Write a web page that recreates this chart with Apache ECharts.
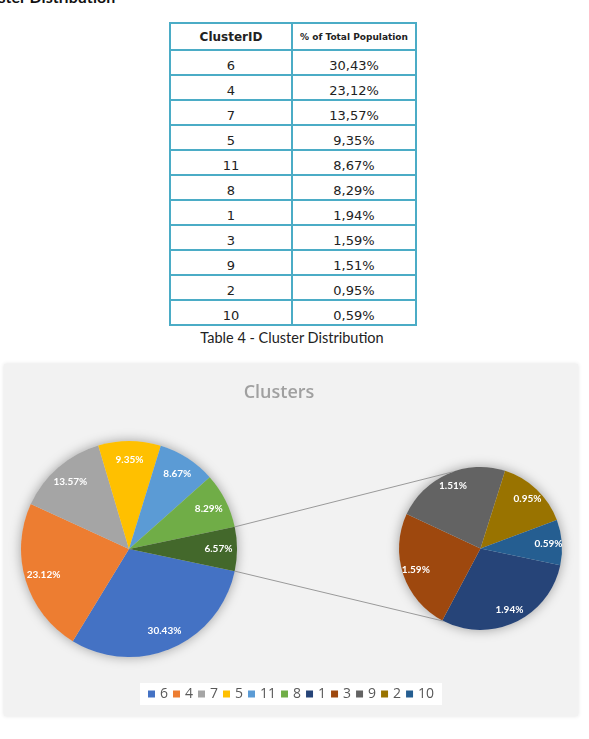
<!DOCTYPE html>
<html>
<head>
<meta charset="utf-8">
<script src="https://cdn.jsdelivr.net/npm/echarts@6/dist/echarts.min.js"></script>
<style>
  body { margin: 0; width: 589px; height: 739px; background: #fff; position: relative; overflow: hidden; }
  #heading { position: absolute; left: -25px; top: -13px; font: bold 16px Lato, sans-serif; color: #111; white-space: nowrap; }
  #tbl { position: absolute; left: 169px; top: 22px; width: 246px; border-collapse: collapse; table-layout: fixed; font-family: 'DejaVu Sans', sans-serif; color: #222; }
  #tbl th, #tbl td { border: 2px solid #4bacc6; text-align: center; padding: 0; }
  #tbl th { height: 25px; font-weight: bold; }
  #tbl td { height: 23px; font-size: 13px; vertical-align: bottom; line-height: 16px; }
  #caption { position: absolute; left: 0; top: 329px; width: 584px; text-align: center; font: 14.5px Lato, sans-serif; color: #222; }
  #chart { position: absolute; left: 4px; top: 364px; width: 574px; height: 352px; background: #f2f2f2; box-shadow: 0 0 4px rgba(0,0,0,0.12); }
</style>
</head>
<body>
<div id="heading">Cluster Distribution</div>
<table id="tbl">
  <colgroup><col style="width:122px"><col style="width:124px"></colgroup>
  <thead><tr><th style="font-size:12px">ClusterID</th><th style="font-size:9px">% of Total Population</th></tr></thead>
  <tbody id="tbody"></tbody>
</table>
<div id="caption">Table 4 - Cluster Distribution</div>
<div id="chart"></div>
<script>
// table data
const clusterIds = ['6', '4', '7', '5', '11', '8', '1', '3', '9', '2', '10'];
const populationPct = [30.43, 23.12, 13.57, 9.35, 8.67, 8.29, 1.94, 1.59, 1.51, 0.95, 0.59];

// pie of pie
const mainNames = ['6', '4', '7', '5', '11', '8', 'Other'];
const mainValues = [30.43, 23.12, 13.57, 9.35, 8.67, 8.29, 6.57];
const subNames = ['1', '3', '9', '2', '10'];
const subValues = [1.94, 1.59, 1.51, 0.95, 0.59];

const mainColors = ['#4472c4', '#ed7d31', '#a5a5a5', '#ffc000', '#5b9bd5', '#70ad47', '#43682b'];
const subColors = ['#264478', '#9e480e', '#636363', '#997300', '#255e91'];

document.getElementById('tbody').innerHTML = clusterIds.map((id, i) =>
  '<tr><td>' + id + '</td><td>' + populationPct[i].toFixed(2).replace('.', ',') + '%</td></tr>'
).join('');

const chart = echarts.init(document.getElementById('chart'));

const R1 = 108, R2 = 81.5;
const C1 = [125, 185], C2 = [476.5, 184.5];
const total = mainValues.reduce((a, b) => a + b, 0);
const half = mainValues[mainValues.length - 1] / total * 180;

function toXY(c, r, deg) {
  const a = deg * Math.PI / 180;
  return [c[0] + r * Math.cos(a), c[1] - r * Math.sin(a)];
}
const p1 = toXY(C1, R1, half), p2 = toXY(C1, R1, -half);
const q1 = toXY(C2, R2, 110), q2 = toXY(C2, R2, -117);

const pctLabel = {
  show: true, position: 'inside', color: '#fff', fontFamily: 'Lato', fontWeight: 'bold', fontSize: 10,
  formatter: p => p.value.toFixed(2) + '%'
};

function pieSet(center, r, names, values, colors) {
  return [
    {
      type: 'pie', center: center, radius: [0, r], silent: true, z: 1,
      label: { show: false }, labelLine: { show: false },
      itemStyle: { color: '#d9d9d9', shadowBlur: 12, shadowColor: 'rgba(0,0,0,0.35)' },
      data: [{ value: 1, name: '' }]
    },
    {
      type: 'pie', center: center, radius: [0, r], startAngle: -half, z: 2,
      label: { show: false }, labelLine: { show: false },
      data: names.map((n, i) => ({ name: n, value: values[i], itemStyle: { color: colors[i] } }))
    },
    {
      type: 'pie', center: center, radius: [r * 0.6, r], startAngle: -half, z: 3, silent: true,
      avoidLabelOverlap: false, label: pctLabel, labelLine: { show: false },
      itemStyle: { color: 'rgba(0,0,0,0)' },
      data: names.map((n, i) => ({ name: 'lbl' + n, value: values[i] }))
    }
  ];
}

chart.setOption({
  backgroundColor: '#f2f2f2',
  animation: false,
  legend: {
    data: mainNames.slice(0, 6).concat(subNames),
    left: 136, top: 319,
    backgroundColor: '#fff',
    padding: [4, 8, 4, 8],
    itemGap: 5, itemWidth: 7, itemHeight: 7, icon: 'rect',
    textStyle: { fontFamily: 'Open Sans', fontSize: 14, color: '#595959' }
  },
  graphic: [
    { type: 'text', x: 275, y: 29, style: { text: 'Clusters', fill: '#a0a0a0', font: '600 18px "Open Sans"', textAlign: 'center', textVerticalAlign: 'middle' } },
    { type: 'line', z: 10, shape: { x1: p1[0], y1: p1[1], x2: q1[0], y2: q1[1] }, style: { stroke: '#9a9a9a', lineWidth: 1 } },
    { type: 'line', z: 10, shape: { x1: p2[0], y1: p2[1], x2: q2[0], y2: q2[1] }, style: { stroke: '#9a9a9a', lineWidth: 1 } }
  ],
  series: pieSet(C1, R1, mainNames, mainValues, mainColors).concat(pieSet(C2, R2, subNames, subValues, subColors))
});
</script>
</body>
</html>
